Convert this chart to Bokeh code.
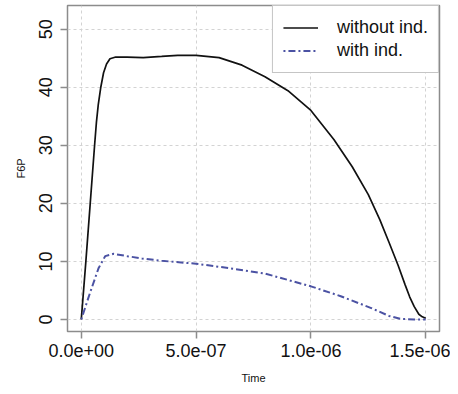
from bokeh.plotting import figure
from bokeh.models import Range1d, FixedTicker, Legend, LegendItem
from bokeh.embed import file_html
from bokeh.resources import INLINE

# ---- data ----
time_without = [0.0, 0.2e-7, 0.39e-7, 0.58e-7, 0.66e-7, 0.74e-7, 0.85e-7, 0.97e-7, 1.1e-7,
                1.25e-7, 1.5e-7, 2.0e-7, 2.7e-7, 3.5e-7, 4.2e-7, 5.0e-7, 6.0e-7, 7.0e-7,
                8.0e-7, 9.0e-7, 10.0e-7, 11.0e-7, 11.8e-7, 12.5e-7, 13.0e-7, 13.4e-7,
                13.8e-7, 14.1e-7, 14.3e-7, 14.5e-7, 14.7e-7, 14.85e-7, 15.0e-7]
f6p_without = [0.0, 10.0, 20.0, 30.0, 34.0, 37.0, 40.0, 42.5, 44.0,
               44.9, 45.2, 45.2, 45.1, 45.3, 45.5, 45.5, 45.1, 43.8,
               41.8, 39.4, 36.0, 31.0, 26.3, 21.5, 17.2, 13.3,
               9.3, 6.0, 3.9, 2.2, 0.9, 0.45, 0.2]

time_with = [0.0, 0.4e-7, 0.75e-7, 1.04e-7, 1.4e-7, 2.0e-7, 2.64e-7, 3.5e-7, 5.0e-7,
             6.5e-7, 8.0e-7, 10.0e-7, 11.3e-7, 12.6e-7, 13.4e-7, 13.9e-7, 14.5e-7, 15.0e-7]
f6p_with = [0.0, 4.8, 8.8, 10.9, 11.3, 10.9, 10.5, 10.1, 9.6,
            8.8, 7.9, 5.7, 4.0, 2.0, 0.6, 0.1, 0.0, 0.0]

x_ticks = [0.0, 5e-7, 1e-6, 1.5e-6]
x_tick_labels = ["0.0e+00", "5.0e-07", "1.0e-06", "1.5e-06"]
y_ticks = [0, 10, 20, 30, 40, 50]
series_labels = ["without ind.", "with ind."]

FONT = "Liberation Sans"
GRAY = "#8c8c8c"

p = figure(width=450, height=386, output_backend="svg", toolbar_location=None,
           x_range=Range1d(-6e-8, 1.56e-6), y_range=Range1d(-2.08, 54.08),
           min_border_left=67, min_border_right=11, min_border_top=5, min_border_bottom=50)

p.background_fill_color = "white"
p.border_fill_color = "white"
p.outline_line_color = GRAY
p.outline_line_width = 1.5

# grids
for g in (p.xgrid, p.ygrid):
    g.grid_line_color = "#d3d3d3"
    g.grid_line_dash = "3 3"
    g.grid_line_width = 1
p.xgrid.ticker = FixedTicker(ticks=x_ticks)
p.ygrid.ticker = FixedTicker(ticks=y_ticks)

# axes
p.xaxis.ticker = FixedTicker(ticks=x_ticks)
p.xaxis.major_label_overrides = {t: l for t, l in zip(x_ticks, x_tick_labels)}
p.yaxis.ticker = FixedTicker(ticks=y_ticks)
p.yaxis.major_label_orientation = "vertical"
for ax in (p.xaxis, p.yaxis):
    ax.axis_line_color = None
    ax.major_tick_line_color = GRAY
    ax.major_tick_line_width = 1.5
    ax.major_tick_out = 7
    ax.major_tick_in = 0
    ax.minor_tick_line_color = None
    ax.major_label_text_font = FONT
    ax.major_label_text_font_size = "18px"
    ax.major_label_text_color = "#111111"
    ax.axis_label_text_font = FONT
    ax.axis_label_text_font_size = "11px"
    ax.axis_label_text_font_style = "normal"
    ax.axis_label_text_color = "#111111"
p.xaxis.axis_label = "Time"
p.yaxis.axis_label = "F6P"
p.xaxis.major_label_standoff = 5
p.yaxis.major_label_standoff = 8
p.xaxis.axis_label_standoff = 12
p.yaxis.axis_label_standoff = 10

r1 = p.line(time_without, f6p_without, line_color="#111111", line_width=1.7)
r2 = p.line(time_with, f6p_with, line_color="#4b52a3", line_width=2, line_dash="2 3 7 3")

legend = Legend(items=[LegendItem(label=series_labels[0], renderers=[r1]),
                       LegendItem(label=series_labels[1], renderers=[r2])],
                location="top_right")
legend.margin = 0
legend.padding = 10
legend.spacing = 0
legend.glyph_width = 35
legend.glyph_height = 23
legend.label_height = 23
legend.label_standoff = 19
legend.label_text_font = FONT
legend.label_text_font_size = "18px"
legend.label_text_color = "#111111"
legend.border_line_color = GRAY
legend.border_line_width = 1.5
legend.background_fill_color = "white"
legend.background_fill_alpha = 1.0
p.add_layout(legend)

open("out.html", "w").write(file_html(p, INLINE))
